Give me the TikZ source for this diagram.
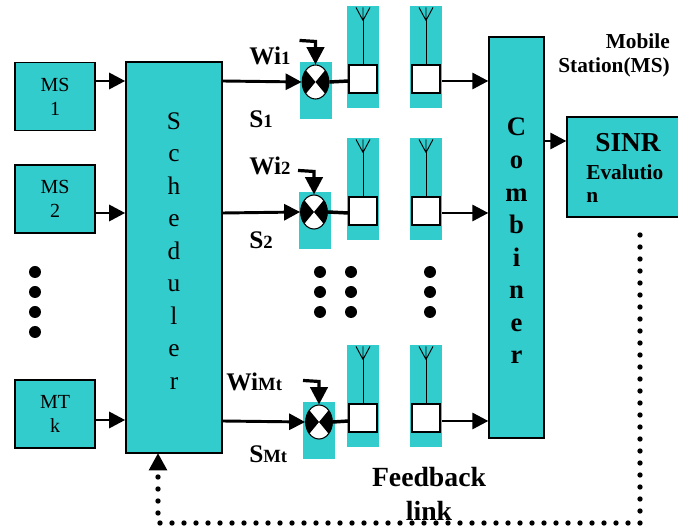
\documentclass[tikz,border=0pt]{standalone}
\usepackage{fontspec}
\setmainfont{Liberation Serif}
\usetikzlibrary{arrows.meta,calc,positioning,shapes.geometric}
\definecolor{panel}{HTML}{33CCCC}
\tikzset{
  blockbox/.style={draw=black, fill=panel, line width=1.2pt, inner sep=0pt},
  panelbox/.style={fill=panel, inner sep=0pt},
  whitebox/.style={draw=black, fill=white, line width=0.8pt, minimum width=21pt, minimum height=21pt, inner sep=0pt},
  link/.style={line width=2.2pt, -{Triangle[length=12pt,width=12pt]}},
  lab/.style={font=\fontsize{16}{18}\selectfont\bfseries, inner sep=0pt},
  siglab/.style={font=\fontsize{19}{21}\selectfont\bfseries, inner sep=0pt, anchor=west},
}
\newcommand{\sublab}[1]{{\fontsize{14}{16}\selectfont #1}}
\begin{document}
\begin{tikzpicture}[x=0.75pt,y=-0.75pt]
  \useasboundingbox (0,0) rectangle (678,530);

  % mobile station boxes on the left
  \foreach \n/\yy/\txt in {a/96.5/{MS\\1}, b/199/{MS\\2}, c/414/{MT\\k}}{
    \node[blockbox, minimum width=60pt, minimum height=51pt, align=center,
      font=\fontsize{15}{18}\selectfont] (ms\n) at (55,\yy) {\txt};
  }

  % scheduler and combiner columns
  \node[blockbox, minimum width=72pt, minimum height=293pt] (sched) at (174,257.5) {};
  \node[align=center, font=\fontsize{19}{24.4}\selectfont] (schedtxt) at (174,251)
    {S\\c\\h\\e\\d\\u\\l\\e\\r};
  \node[blockbox, minimum width=41pt, minimum height=301pt] (comb) at (516.5,237.5) {};
  \node[align=center, font=\fontsize{20}{24.4}\selectfont\bfseries] (combtxt) at (516.5,241)
    {C\\o\\m\\b\\i\\n\\e\\r};

  % SINR box runs off the right edge
  \node[blockbox, minimum width=86pt, minimum height=75pt] (sinr) at (624.5,167) {};
  \node[font=\fontsize{20.5}{22}\selectfont\bfseries, inner sep=0pt] (sinrtxt) at (628,143) {SINR};
  \node[lab, anchor=west] (evaltxt) at (586,172) {Evalutio};
  \node[lab, anchor=west] (evaltxtb) at (586,197) {n};
  \node[align=right, anchor=east, inner sep=0pt, font=\fontsize{16}{18}\selectfont\bfseries] (mstxt) at (670,55)
    {Mobile\\Station(MS)};

  % one row per transmit branch: top of antenna panels / mixer x / mixer y / panel x / signal y
  \foreach \r/\yy/\mx/\my/\px/\sy in {1/6/315.5/82/316/81, 2/138/314/212/314.5/213, 3/345/319/422/319/421}{
    \node[panelbox, minimum width=24pt, minimum height=43pt] (mp\r) at (\px,\my+8.5) {};
    \node[panelbox, minimum width=24pt, minimum height=76.5pt] (pa\r) at (363,\yy+51) {};
    \node[panelbox, minimum width=24pt, minimum height=76.5pt] (pb\r) at (426,\yy+51) {};
    \node[whitebox] (sa\r) at (363,\yy+73) {};
    \node[whitebox] (sb\r) at (426,\yy+73) {};

    % antennas
    \foreach \s in {a,b}{
      \coordinate (j\s\r) at ($(s\s\r.north)+(0,-44)$);
      \draw[line width=0.7pt] (s\s\r.north) -- (j\s\r);
      \draw[line width=0.7pt] (j\s\r) -- ++(-7,-13) (j\s\r) -- ++(0,-13) (j\s\r) -- ++(7,-13);
    }

    % mixer, black left and right sectors
    \node[ellipse, draw=black, fill=white, line width=0.8pt, minimum width=20pt, minimum height=25.5pt, inner sep=0pt] (mx\r) at (\mx,\my) {};
    \begin{scope}
      \clip (\mx,\my) ellipse (13.5 and 17);
      \fill[black] (\mx,\my) -- ++(-14,-17) -- ++(0,34) -- cycle;
      \fill[black] (\mx,\my) -- ++(14,-17) -- ++(0,34) -- cycle;
    \end{scope}

    % weight arrow into the mixer
    \coordinate (wt\r) at ($(mx\r.north)+(-16,-24)$);
    \draw[line width=2.4pt, -{Triangle[length=13pt,width=13pt]}] (wt\r) -- ++(16,1) -- (mx\r.north);

    % signal path
    \draw[link] (sched.east |- 0,\sy) -- (mx\r.west);
    \draw[line width=2.6pt] (mx\r.east) -- (sa\r.west |- 0,\sy);
    \draw[link] (pb\r.east |- 0,\sy) -- (comb.west |- 0,\sy);
  }

  % arrows into the scheduler and out of the combiner
  \draw[link] (msa.east |- 0,81) -- (sched.west |- 0,81);
  \draw[link] (msb.east |- 0,213) -- (sched.west |- 0,213);
  \draw[link] (msc.east |- 0,420) -- (sched.west |- 0,420);
  \draw[link] (comb.east |- 0,141) -- (sinr.west |- 0,141);

  % weight and signal labels
  \node[siglab] (wia) at (249,56) {Wi\sublab{1}};
  \node[siglab] (sia) at (249,119) {S\sublab{1}};
  \node[siglab] (wib) at (249,166) {Wi\sublab{2}};
  \node[siglab] (sib) at (249,240) {S\sublab{2}};
  \node[siglab] (wic) at (226,382) {Wi\sublab{Mt}};
  \node[siglab] (sic) at (249,454) {S\sublab{Mt}};

  % ellipsis dots
  \foreach \yy in {272,292,312,332}{
    \fill (35,\yy) circle (6);
  }
  \foreach \xx in {320,351,430}{
    \foreach \yy in {272,292,312}{
      \fill (\xx,\yy) circle (6);
    }
  }

  % feedback path
  \node[align=center, font=\fontsize{20.8}{25}\selectfont\bfseries] (fbtxt) at (429,494) {Feedback\\link};
  \coordinate (fbstart) at (640,235);
  \coordinate (fbcorner) at (640,523);
  \coordinate (fbend) at (158,453);
  \draw[line width=4pt, line cap=round, dash pattern=on 0pt off 9pt, -{Triangle[length=13pt,width=13pt]}]
    (fbstart) -- (fbcorner) -| (fbend);
\end{tikzpicture}
\end{document}
